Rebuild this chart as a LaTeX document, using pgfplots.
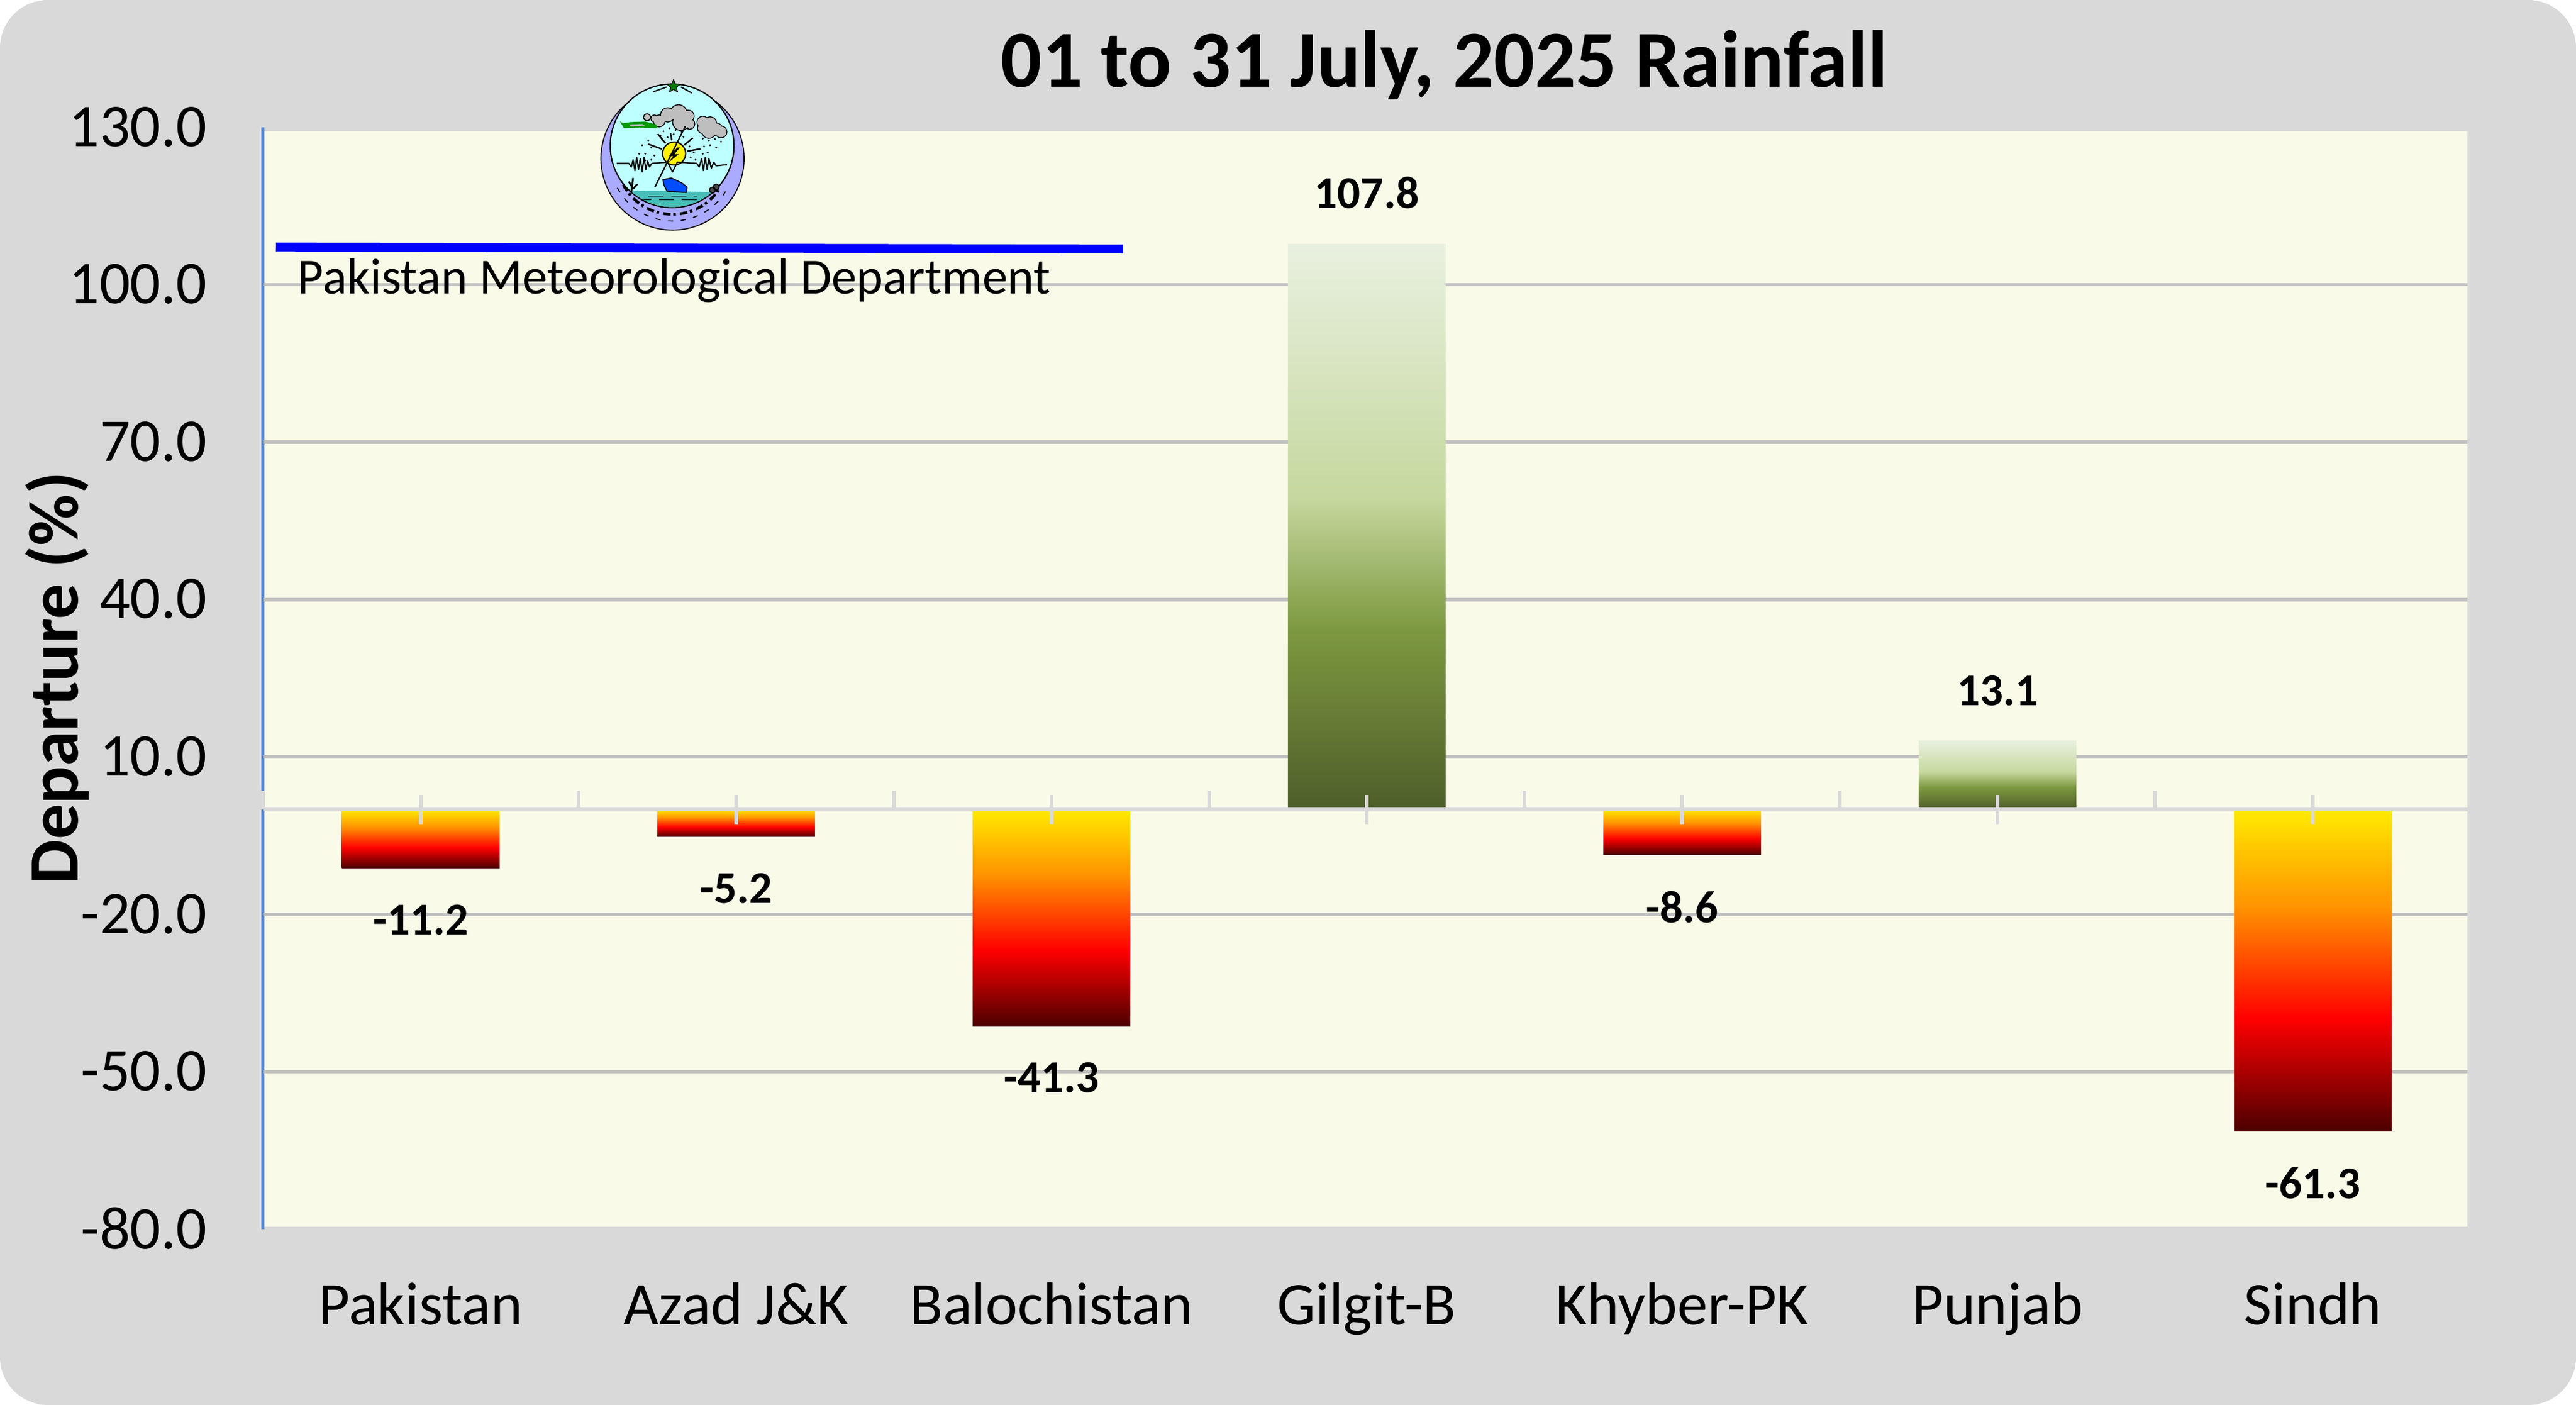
\documentclass[border=0pt]{standalone}
\usepackage{pgfplots}
\pgfplotsset{compat=1.18}
\usetikzlibrary{shapes.geometric}
\usepackage{fontspec}
\setmainfont{Carlito}
\definecolor{panel}{RGB}{217,217,217}
\definecolor{plotbg}{RGB}{249,250,232}
\definecolor{gridc}{RGB}{192,192,192}
\definecolor{axisblue}{RGB}{84,130,196}
\definecolor{lav}{RGB}{170,170,255}
\definecolor{cyanl}{RGB}{190,255,255}
\definecolor{teal2}{RGB}{72,190,185}
\definecolor{cloudg}{RGB}{190,190,190}
\pgfdeclareverticalshading{negbar}{100bp}{
 rgb(0bp)=(0.30,0,0);
 rgb(25bp)=(0.30,0,0);
 rgb(42.5bp)=(1,0,0);
 rgb(60bp)=(1,0.58,0);
 rgb(75bp)=(1,0.92,0);
 rgb(100bp)=(1,0.92,0)}
\pgfdeclareverticalshading{posbar}{100bp}{
 rgb(0bp)=(0.306,0.369,0.165);
 rgb(25bp)=(0.306,0.369,0.165);
 rgb(41bp)=(0.49,0.60,0.25);
 rgb(52.5bp)=(0.773,0.847,0.62);
 rgb(75bp)=(0.914,0.941,0.878);
 rgb(100bp)=(0.914,0.941,0.878)}
\begin{document}
\begin{tikzpicture}[x=1pt,y=1pt]
\fill[panel] (0,0) [rounded corners=19pt] rectangle (1019.52,556.08);
\useasboundingbox (0,0) rectangle (1019.52,556.08);
\node[anchor=base,font=\fontsize{32}{32}\selectfont\bfseries] at (571.5,521.6) {01 to 31 July, 2025 Rainfall};
\fill[plotbg] (104.16,70.56) rectangle (976.56,504.24);
\draw[axisblue,line width=1.4pt] (104.04,69.6) -- (104.04,505.7);
\begin{axis}[
 at={(104.09pt,69.6pt)},anchor=south west,
 scale only axis,width=872.47pt,height=436.08pt,
 xmin=-0.5,xmax=6.49,ymin=-80,ymax=130,
 axis line style={draw=none},
 xtick={0,1,2,3,4,5,6},
 xticklabels={Pakistan,Azad J\&K,Balochistan,Gilgit-B,Khyber-PK,Punjab,Sindh},
 x tick label style={font=\fontsize{24}{24}\selectfont,yshift=-13.4pt},
 ytick={-80,-50,-20,10,40,70,100,130},
 extra y ticks={-50,-20,10,40,70,100},
 extra y tick labels={},
 extra tick style={grid=major,major grid style={gridc,line width=1.4pt},tick style={draw=none}},
 tick style={draw=none},
 y tick label style={font=\fontsize{24}{24}\selectfont,
   /pgf/number format/assume math mode=true,
   /pgf/number format/fixed,/pgf/number format/fixed zerofill,/pgf/number format/precision=1,xshift=-18.6pt,yshift=0.2pt},
 ylabel={Departure (\%)},
 ylabel style={font=\fontsize{28}{28}\selectfont\bfseries,at={(axis description cs:-0.0933,0.5)},rotate=0,anchor=center},
 ybar,bar width=0.5,
 nodes near coords,
 nodes near coords align=vertical,
 every node near coord/.append style={font=\fontsize{18}{18}\selectfont\bfseries,inner ysep=14pt,yshift=-0.3pt,text=black,
   /pgf/number format/assume math mode=true,
   /pgf/number format/fixed,/pgf/number format/fixed zerofill,/pgf/number format/precision=1},
 clip=false,
]
\addplot[bar shift=0pt,draw=none,shade,shading=negbar] coordinates {(0,-11.2)};
\addplot[bar shift=0pt,draw=none,shade,shading=negbar] coordinates {(1,-5.2)};
\addplot[bar shift=0pt,draw=none,shade,shading=negbar] coordinates {(2,-41.3)};
\addplot[bar shift=0pt,draw=none,shade,shading=posbar] coordinates {(3,107.8)};
\addplot[bar shift=0pt,draw=none,shade,shading=negbar] coordinates {(4,-8.6)};
\addplot[bar shift=0pt,draw=none,shade,shading=posbar] coordinates {(5,13.1)};
\addplot[bar shift=0pt,draw=none,shade,shading=negbar] coordinates {(6,-61.3)};
\draw[panel,line width=1.6pt] (axis cs:-0.5,0) -- (axis cs:6.49,0);
\draw[panel,line width=1.4pt]
 (axis cs:-0.5,0)--(axis cs:-0.5,3.6) (axis cs:0.5,0)--(axis cs:0.5,3.6) (axis cs:1.5,0)--(axis cs:1.5,3.6)
 (axis cs:2.5,0)--(axis cs:2.5,3.6) (axis cs:3.5,0)--(axis cs:3.5,3.6) (axis cs:4.5,0)--(axis cs:4.5,3.6) (axis cs:5.5,0)--(axis cs:5.5,3.6)
 (axis cs:0,-2.8)--(axis cs:0,2.7) (axis cs:1,-2.8)--(axis cs:1,2.7) (axis cs:2,-2.8)--(axis cs:2,2.7)
 (axis cs:3,-2.8)--(axis cs:3,2.7) (axis cs:4,-2.8)--(axis cs:4,2.7) (axis cs:5,-2.8)--(axis cs:5,2.7) (axis cs:6,-2.8)--(axis cs:6,2.7);
\end{axis}
% header rule and caption
\draw[blue,line width=3.5pt] (109.2,458.3) -- (444.5,457.5);
\node[anchor=base west,inner sep=0pt,font=\fontsize{20}{20}\selectfont] at (117.6,439.9) {Pakistan Meteorological Department};
% emblem
\begin{scope}[shift={(266.16,493.32)},x=0.24pt,y=0.24pt,line width=0.4pt,line join=round]
 \filldraw[fill=lav,draw=black] (127:118) arc[start angle=127,end angle=413,radius=118] -- cycle;
 \filldraw[fill=cyanl,draw=black,line width=0.5pt] (-0.7,21) circle[radius=102];
 \begin{scope}
  \clip (-0.7,21) circle[radius=101];
  \fill[teal2] (-110,-57) .. controls (-50,-50) and (30,-55) .. (110,-57) -- (110,-110) -- (-110,-110) -- cycle;
  \draw[line width=0.3pt,dash pattern=on 6pt off 3pt] (-60,-68)--(50,-68) (-40,-62)--(40,-62) (-45,-75)--(30,-75);
 \end{scope}
 \node[star,star points=5,star point ratio=2.4,fill=green!50!black,draw=black,inner sep=0pt,minimum size=5.5pt,line width=0.3pt] at (1.7,119) {};
 \draw[line width=0.5pt] (-32,110)--(-10,118) (14,118)--(32,108);
 \foreach \cx/\cy/\cr in {-22/62/9,-8/72/11,10/75/13,26/70/9,14/60/13,28/57/8,-30/66/5,-42/68/5,50/60/9,62/58/10,72/48/10,60/45/11,80/44/9,50/50/8}{
  \fill[black] (\cx,\cy) circle[radius=\cr+1.5];}
 \foreach \cx/\cy/\cr in {-22/62/9,-8/72/11,10/75/13,26/70/9,14/60/13,28/57/8,-30/66/5,-42/68/5,50/60/9,62/58/10,72/48/10,60/45/11,80/44/9,50/50/8}{
  \fill[cloudg] (\cx,\cy) circle[radius=\cr];}
 \fill[green!60!black] (-87,62)--(-80,50)--(-55,51)--(-25,50)--(-27,56)--(-45,61)--(-70,60)--(-82,58)--cycle;
 \fill[cloudg] (-72,56)--(-50,57)--(-45,54)--(-68,53)--cycle;
 \foreach \dx/\dy in {-15/45,-5/50,5/47,15/44,25/50,-20/38,-8/35,2/40,18/36,50/33,60/30,70/32,80/28,52/20,62/22,72/18,50/8,58/10,-40/30,-50/22,-35/18,-45/8,-55/8,-30/5,28/20,35/10,30/2,38/-2,-35/-2,-45/-3}{
  \fill[black] (\dx,\dy) circle[radius=1.6];}
 \draw[line width=0.6pt]
   (2.7,8.3)+(130:22)--+(130:42) (2.7,8.3)+(160:22)--+(160:46) (2.7,8.3)+(40:22)--+(40:40)
   (2.7,8.3)+(10:22)--+(10:44) (2.7,8.3)+(100:22)--+(100:34);
 \filldraw[fill=yellow,draw=black,line width=0.5pt] (2.7,8.3) circle[radius=19];
 \fill[black] (8,18)--(-6,4)--(1,4)--(-6,-6)--(10,7)--(3,7)--(12,18)--cycle;
 \draw[line width=0.5pt] (-92,-8)--(-72,-8)--(-68,-14)--(-65,-2)--(-62,-20)--(-59,2)--(-56,-18)--(-53,0)--(-50,-22)--(-47,2)--(-44,-18)--(-41,-4)--(-38,-14)--(-34,-8)--(-8,-6)--(-4,-14)--(0,-22)--(4,-14)--(8,-6)--(40,-8)--(44,-14)--(48,0)--(51,-20)--(54,2)--(57,-18)--(60,0)--(64,-16)--(68,-6)--(72,-12)--(90,-10);
 \draw[line width=0.5pt] (21,53)--(-29,-47);
 \filldraw[fill=blue!70!cyan,draw=black,line width=0.4pt] (-16,-35)--(-2,-32)--(15,-40)--(24,-47)--(23,-56)--(-9,-54)--(-14,-44)--cycle;
 \draw[line width=0.7pt] (-68,-55)--(-65,-32) (-65,-50)--(-72,-38) (-65,-50)--(-58,-42);
 \filldraw[fill=black!70] (66,-52) circle[radius=5] (72,-47) circle[radius=5];
 \draw[line width=1.1pt,dash pattern=on 3pt off 1.1pt on 1pt off 1.6pt] (208:92) arc[start angle=208,end angle=328,radius=92];
 \draw[line width=0.4pt,dash pattern=on 2pt off 3pt] (208:103) arc[start angle=208,end angle=328,radius=103];
\end{scope}
\end{tikzpicture}
\end{document}
